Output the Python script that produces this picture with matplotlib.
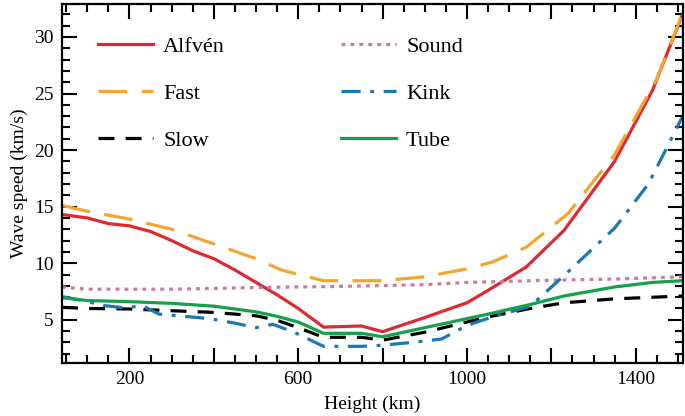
import matplotlib
matplotlib.use("Agg")
import matplotlib.pyplot as plt
from matplotlib.ticker import MultipleLocator, FuncFormatter

# heights (km) and wave speeds (km/s)
alfven_h = [40, 100, 150, 200, 250, 300, 350, 400, 450, 500, 550, 600, 660, 750, 800,
            900, 1000, 1050, 1140, 1230, 1350, 1440, 1510]
alfven_v = [14.3, 14.0, 13.5, 13.3, 12.8, 12.0, 11.1, 10.4, 9.4, 8.3, 7.2, 6.0, 4.35, 4.45, 3.95,
            5.2, 6.5, 7.6, 9.65, 12.9, 19.0, 25.3, 31.9]

fast_h = [40, 100, 200, 300, 400, 500, 560, 660, 800, 900, 1000, 1060, 1140, 1240, 1350, 1450, 1510]
fast_v = [15.1, 14.6, 13.9, 13.0, 11.7, 10.4, 9.4, 8.45, 8.45, 8.8, 9.5, 10.1, 11.4, 14.4, 19.6, 26.3, 32.0]

slow_h = [40, 100, 200, 300, 400, 500, 550, 600, 660, 750, 800, 900, 1000, 1050, 1150, 1230, 1350, 1510]
slow_v = [6.1, 6.0, 5.95, 5.8, 5.65, 5.35, 4.95, 4.3, 3.45, 3.45, 3.2, 3.9, 4.8, 5.25, 6.0, 6.5, 6.85, 7.1]

sound_h = [40, 100, 300, 500, 700, 900, 1000, 1200, 1350, 1510]
sound_v = [7.9, 7.7, 7.7, 7.85, 7.95, 8.1, 8.3, 8.5, 8.6, 8.8]

kink_h = [40, 90, 140, 190, 230, 270, 330, 390, 450, 500, 540, 590, 660, 750, 800, 870, 940,
          1000, 1060, 1150, 1230, 1350, 1430, 1475, 1510]
kink_v = [7.05, 6.7, 6.25, 6.05, 6.25, 5.5, 5.3, 5.1, 4.7, 4.3, 4.6, 3.9, 2.65, 2.65, 2.75, 3.0, 3.3,
          4.5, 5.25, 6.2, 8.9, 13.1, 17.0, 20.3, 22.9]

tube_h = [40, 100, 200, 300, 400, 500, 550, 600, 660, 750, 800, 900, 1000, 1050, 1150, 1230, 1350, 1440, 1510]
tube_v = [6.95, 6.7, 6.6, 6.45, 6.2, 5.7, 5.3, 4.8, 3.8, 3.8, 3.5, 4.3, 5.1, 5.5, 6.35, 7.1, 7.9, 8.3, 8.45]

plt.rcParams['font.family'] = ['Liberation Serif', 'DejaVu Serif']

fig = plt.figure(figsize=(6.85, 4.16), dpi=100)
ax = fig.add_axes([0.0905, 0.128, 0.9065, 0.862])

lw = 2.3
ax.plot(alfven_h, alfven_v, color='#dc2a30', lw=lw, label='Alfvén')
ax.plot(fast_h, fast_v, color='#f2a630', lw=lw, dashes=(9, 4.5), label='Fast')
ax.plot(slow_h, slow_v, color='black', lw=lw, dashes=(5, 3.5), label='Slow')
ax.plot(sound_h, sound_v, color='#cc7a9c', lw=lw, dashes=(1.2, 1.6), label='Sound')
ax.plot(kink_h, kink_v, color='#1a78b4', lw=lw, dashes=(6, 3, 1.2, 3), label='Kink')
ax.plot(tube_h, tube_v, color='#15a04c', lw=lw, label='Tube')

ax.set_xlim(40, 1512)
ax.set_ylim(1.2, 32.9)

ax.xaxis.set_major_locator(MultipleLocator(200))
ax.xaxis.set_minor_locator(MultipleLocator(50))
ax.xaxis.set_major_formatter(FuncFormatter(lambda v, p: f"{int(v)}" if int(v) % 400 == 200 else ""))
ax.yaxis.set_major_locator(MultipleLocator(5))
ax.yaxis.set_minor_locator(MultipleLocator(1))

ax.tick_params(which='both', direction='in', top=True, right=True, width=1.5, labelsize=14)
ax.tick_params(which='major', length=11, pad=6)
ax.tick_params(which='minor', length=6)
for s in ax.spines.values():
    s.set_linewidth(1.6)

ax.set_xlabel('Height (km)', fontsize=14, labelpad=5.5)
ax.set_ylabel('Wave speed (km/s)', fontsize=14, labelpad=4)

ax.legend(ncol=2, loc='upper left', bbox_to_anchor=(0.025, 0.965), frameon=False, fontsize=16,
          handlelength=2.5, handletextpad=0.45, columnspacing=5.2, labelspacing=1.18)

plt.savefig('out.png', dpi=100)
